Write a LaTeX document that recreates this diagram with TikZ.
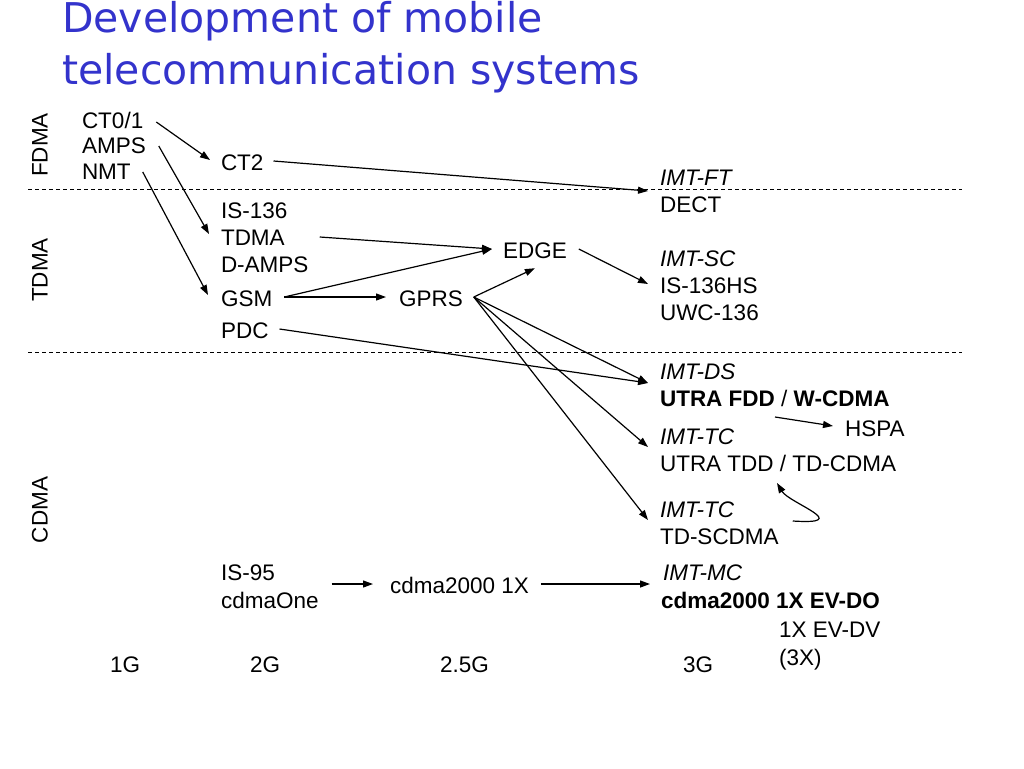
\documentclass[tikz,border=0pt]{standalone}
\usepackage{fontspec}
\setmainfont{Liberation Sans}
\newfontfamily\titlefont{DejaVu Sans}
\usetikzlibrary{arrows.meta,calc}
\definecolor{titleblue}{RGB}{51,51,204}
\begin{document}
\begin{tikzpicture}[x=1pt,y=-1pt,
  txt/.style={anchor=base west,inner sep=0pt,outer sep=0pt,font=\fontsize{22.5}{26}\selectfont},
  itxt/.style={txt,font=\fontsize{22.5}{26}\selectfont\itshape},
  btxt/.style={txt,font=\fontsize{22.5}{26}\selectfont\bfseries},
  vtxt/.style={inner sep=0pt,rotate=90,font=\fontsize{22.5}{26}\selectfont},
  ttl/.style={anchor=base west,inner sep=0pt,text=titleblue,font=\titlefont\fontsize{41}{48}\selectfont},
  sep/.style={dash pattern=on 4pt off 3pt,line width=0.9pt},
  arr/.style={-{Triangle[length=10pt,width=7pt]},line width=1.2pt}]
\useasboundingbox (0,0) rectangle (1024,768);
% title
\node[ttl] (t1) at (62,33) {Development of mobile};
\node[ttl] (t2) at (62,84) {telecommunication systems};
% separators
\coordinate (s1a) at (28,189); \coordinate (s1b) at (962,189);
\coordinate (s2a) at (28,352); \coordinate (s2b) at (962,352);
\draw[sep] (s1a) -- (s1b);
\draw[sep] (s2a) -- (s2b);
% side labels
\node[vtxt] (fdma) at (40,145) {FDMA};
\node[vtxt] (tdmal) at (40,270) {TDMA};
\node[vtxt] (cdmal) at (40,510) {CDMA};
% 1G
\node[txt] (ct01) at (82,128) {CT0/1};
\node[txt] (amps) at (82,153) {AMPS};
\node[txt] (nmt) at (82,179) {NMT};
% 2G
\node[txt] (ct2) at (221,170) {CT2};
\node[txt] (is136) at (221,218) {IS-136};
\node[txt] (tdma) at (221,245) {TDMA};
\node[txt] (damps) at (221,272) {D-AMPS};
\node[txt] (gsm) at (221,306) {GSM};
\node[txt] (pdc) at (221,338) {PDC};
\node[txt] (is95) at (221,580) {IS-95};
\node[txt] (cdmaone) at (221,608) {cdmaOne};
% 2.5G
\node[txt] (edge) at (503,258) {EDGE};
\node[txt] (gprs) at (399,306) {GPRS};
\node[txt] (cdma1x) at (390,593) {cdma2000 1X};
% 3G
\node[itxt] (imtft) at (660,185) {IMT-FT};
\node[txt] (dect) at (660,212) {DECT};
\node[itxt] (imtsc) at (660,266) {IMT-SC};
\node[txt] (is136hs) at (660,293) {IS-136HS};
\node[txt] (uwc) at (660,320) {UWC-136};
\node[itxt] (imtds) at (660,379) {IMT-DS};
\node[btxt] (utrafdd) at (660,406) {UTRA FDD {\mdseries/} W-CDMA};
\node[txt] (hspa) at (845,436) {HSPA};
\node[itxt] (imttc) at (660,444) {IMT-TC};
\node[txt] (utratdd) at (660,471) {UTRA TDD / TD-CDMA};
\node[itxt] (imttcb) at (660,517) {IMT-TC};
\node[txt] (tdscdma) at (660,544) {TD-SCDMA};
\node[itxt] (imtmc) at (663,580) {IMT-MC};
\node[btxt] (evdo) at (661,608) {cdma2000 1X EV-DO};
\node[txt] (evdv) at (779,637) {1X EV-DV};
\node[txt] (x3) at (779,665) {(3X)};
% generations
\node[txt] (g1) at (110,672) {1G};
\node[txt] (g2) at (250,672) {2G};
\node[txt] (g25) at (440,672) {2.5G};
\node[txt] (g3) at (683,672) {3G};
% arrows
\draw[arr] ($(ct01.base east)+(13,-6)$) -- ($(ct2.base west)+(-11,-10)$);
\draw[arr] ($(amps.base east)+(13,-7)$) -- ($(tdma.base west)+(-12,-11)$);
\draw[arr] ($(nmt.base east)+(12,-7)$) -- ($(gsm.base west)+(-13,-11)$);
\draw[arr] ($(ct2.base east)+(10,-9)$) -- ($(imtft.base west)+(-12,6)$);
\draw[arr] ($(tdma.base east)+(35,-8)$) -- ($(edge.base west)+(-11,-9)$);
\draw[arr] ($(gsm.base east)+(12,-9)$) -- ($(edge.base west)+(-11,-9)$);
\draw[arr] ($(gsm.base east)+(12,-9)$) -- ($(gprs.base west)+(-13,-9)$);
\draw[arr] ($(gprs.base east)+(11,-9)$) -- ($(edge.south)+(0,10)$);
\draw[arr] ($(edge.base east)+(12,-9)$) -- ($(is136hs.base west)+(-12,-9)$);
\draw[arr] ($(pdc.base east)+(11,-9)$) -- ($(imtds.base west)+(-12,4)$);
\draw[arr] ($(gprs.base east)+(11,-9)$) -- ($(imtds.base west)+(-12,4)$);
\draw[arr] ($(gprs.base east)+(11,-9)$) -- ($(imttc.base west)+(-12,3)$);
\draw[arr] ($(gprs.base east)+(11,-9)$) -- ($(imttcb.base west)+(-12,3)$);
\draw[arr] ($(utrafdd.base west)+(115,11)$) -- ($(hspa.base west)+(-12,-10)$);
\draw[arr] ($(tdscdma.base east)+(14,-23)$) .. controls +(62,4) and +(12,20) .. ($(utratdd.base west)+(117,12)$);
\draw[arr] ($(cdmaone.base east)+(13,-24)$) -- ($(cdma1x.base west)+(-17,-9)$);
\draw[arr] ($(cdma1x.base east)+(12,-9)$) -- ($(imtmc.base west)+(-13,4)$);
\end{tikzpicture}
\end{document}
